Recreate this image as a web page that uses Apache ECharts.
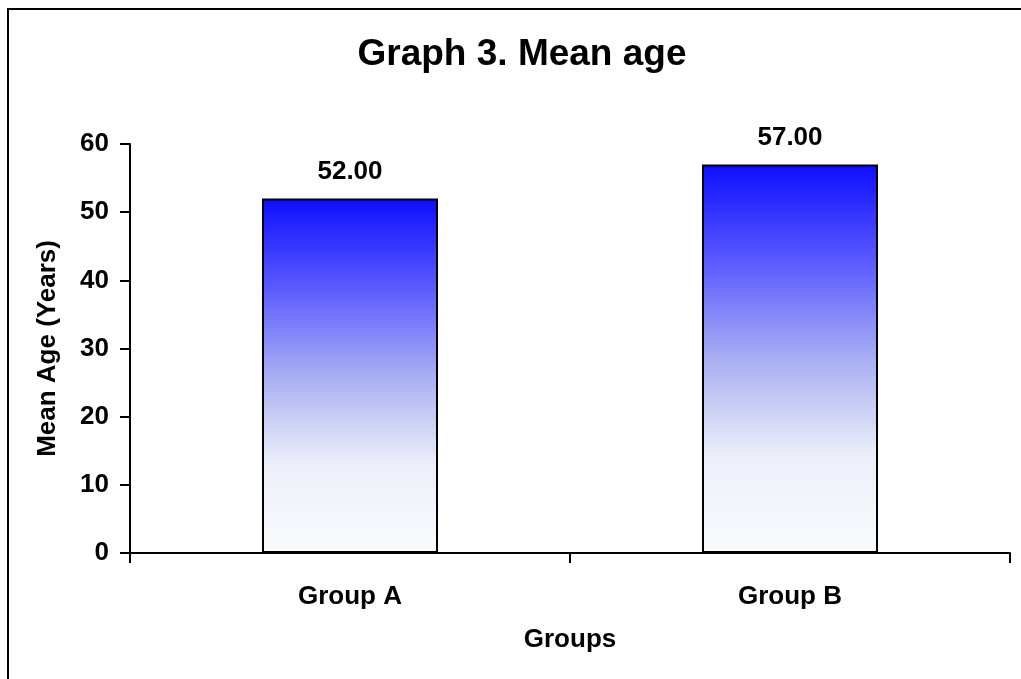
<!DOCTYPE html>
<html>
<head>
<meta charset="utf-8">
<script src="https://cdn.jsdelivr.net/npm/echarts@6/dist/echarts.min.js"></script>
<style>
  html, body { margin: 0; padding: 0; background: #ffffff; }
  #chart { width: 1021px; height: 679px; }
</style>
</head>
<body>
<div id="chart"></div>
<script>
// Mean age per group
const groups = ['Group A', 'Group B'];
const meanAge = [52.00, 57.00];
const yTicks = [0, 10, 20, 30, 40, 50, 60];

const FONT = '"Liberation Sans", Arial, sans-serif';
const chart = echarts.init(document.getElementById('chart'));

const barFill = new echarts.graphic.LinearGradient(0, 0, 0, 1, [
  { offset: 0, color: '#0e0eff' },
  { offset: 0.25, color: '#5a5aff' },
  { offset: 0.5, color: '#a8aef2' },
  { offset: 0.75, color: '#eceff9' },
  { offset: 1, color: '#fbfbfd' }
]);

chart.setOption({
  backgroundColor: '#ffffff',
  animation: false,
  title: {
    text: 'Graph 3. Mean age',
    left: 517,
    textAlign: 'center',
    top: 31,
    textStyle: { fontFamily: FONT, fontSize: 37, fontWeight: 'bold', color: '#000' }
  },
  graphic: [{
    type: 'rect',
    shape: { x: 8, y: 9, width: 1200, height: 900 },
    style: { fill: 'none', stroke: '#000', lineWidth: 2 },
    silent: true
  }],
  grid: { left: 130, right: 11, top: 144, bottom: 126, containLabel: false },
  xAxis: {
    type: 'category',
    data: groups,
    name: 'Groups',
    nameLocation: 'middle',
    nameGap: 74,
    nameTextStyle: { fontFamily: FONT, fontSize: 26, fontWeight: 'bold', color: '#000' },
    axisLine: { lineStyle: { color: '#000', width: 2 } },
    axisTick: { show: true, length: 10, lineStyle: { color: '#000', width: 2 } },
    axisLabel: { margin: 31, fontFamily: FONT, fontSize: 26, fontWeight: 'bold', color: '#000' }
  },
  yAxis: {
    type: 'value',
    min: yTicks[0],
    max: yTicks[yTicks.length - 1],
    interval: 10,
    name: 'Mean Age (Years)',
    nameLocation: 'middle',
    nameGap: 69,
    nameTextStyle: { fontFamily: FONT, fontSize: 26, fontWeight: 'bold', color: '#000' },
    axisLine: { show: true, lineStyle: { color: '#000', width: 2 } },
    axisTick: { show: true, length: 10, lineStyle: { color: '#000', width: 2 } },
    axisLabel: { margin: 21, fontFamily: FONT, fontSize: 26, fontWeight: 'bold', color: '#000' },
    splitLine: { show: false }
  },
  series: [{
    type: 'bar',
    data: meanAge,
    barWidth: '40%',
    itemStyle: { color: barFill, borderColor: '#000', borderWidth: 2 },
    label: {
      show: true,
      position: 'top',
      distance: 14,
      formatter: p => p.value.toFixed(2),
      fontFamily: FONT, fontSize: 26, fontWeight: 'bold', color: '#000'
    }
  }]
});
</script>
</body>
</html>
